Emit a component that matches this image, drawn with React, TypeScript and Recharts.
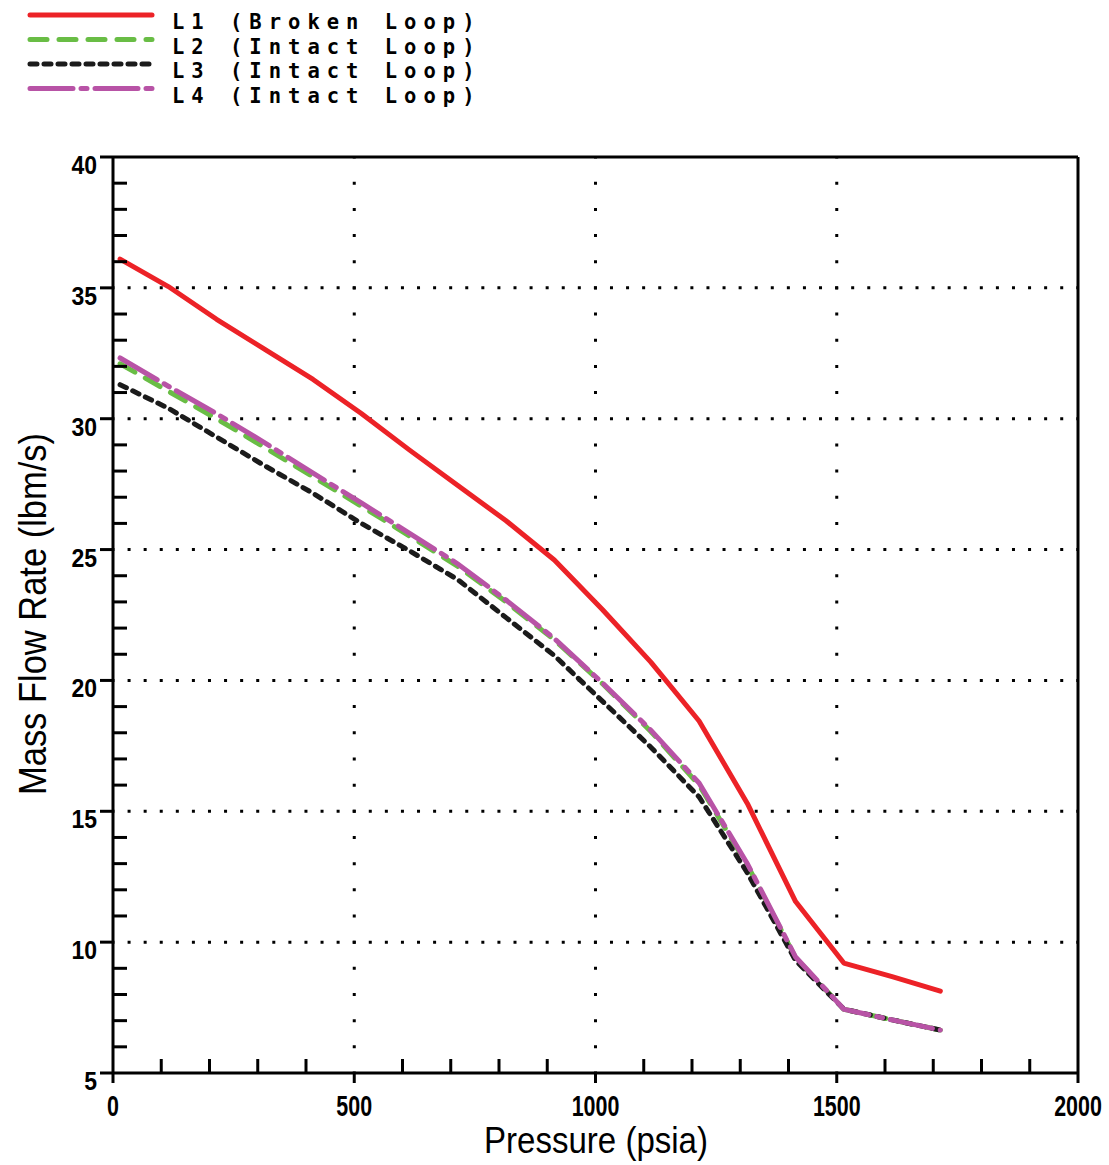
import { LineChart, Line, XAxis, YAxis, ReferenceLine, Legend } from 'recharts';

// pressure points (psia) the loop flows were read at
const pressure = [
  14.7, 114.7, 214.7, 314.7, 414.7, 514.7, 614.7, 714.7, 814.7,
  914.7, 1014.7, 1114.7, 1214.7, 1314.7, 1414.7, 1514.7, 1614.7, 1714.7,
];

// mass flow rate (lbm/s) per loop
const l1Broken = [36.1, 35.05, 33.8, 32.65, 31.5, 30.2, 28.8, 27.45, 26.1, 24.6, 22.7, 20.7, 18.45, 15.3, 11.55, 9.2, 8.68, 8.13];
const l2Intact = [32.1, 31.05, 30.0, 28.9, 27.78, 26.66, 25.52, 24.36, 23.0, 21.55, 19.87, 18.05, 16.0, 12.95, 9.4, 7.44, 7.03, 6.64];
const l3Intact = [31.3, 30.4, 29.3, 28.2, 27.15, 26.0, 24.95, 23.85, 22.4, 20.95, 19.2, 17.45, 15.55, 12.65, 9.3, 7.44, 7.03, 6.64];
const l4Intact = [32.32, 31.24, 30.19, 29.08, 27.92, 26.78, 25.62, 24.45, 23.07, 21.6, 19.9, 18.1, 16.08, 13.0, 9.43, 7.44, 7.03, 6.64];

const xTicks = [0, 100, 200, 300, 400, 500, 600, 700, 800, 900, 1000, 1100, 1200, 1300, 1400, 1500, 1600, 1700, 1800, 1900, 2000];
const yTicks = [5, 6, 7, 8, 9, 10, 11, 12, 13, 14, 15, 16, 17, 18, 19, 20, 21, 22, 23, 24, 25, 26, 27, 28, 29, 30, 31, 32, 33, 34, 35, 36, 37, 38, 39, 40];
const xGrid = [500, 1000, 1500];
const yGrid = [10, 15, 20, 25, 30, 35];

const data = pressure.map((p, i) => ({
  p,
  l1: l1Broken[i],
  l2: l2Intact[i],
  l3: l3Intact[i],
  l4: l4Intact[i],
}));

const W = 1109;
const H = 1165;
const LEFT = 113;
const RIGHT = 1078;
const TOP = 157;
const BOTTOM = 1073;

const RED = '#ec2227';
const GREEN = '#69bd45';
const BLACK = '#1b1b1b';
const PURPLE = '#b853a6';

const font = "'Liberation Sans', Arial, sans-serif";

const XTick = ({ x, payload }: any) => {
  const v = payload.value;
  const major = v % 500 === 0;
  return (
    <g>
      <line
        x1={x}
        x2={x}
        y1={BOTTOM}
        y2={major ? BOTTOM + 10 : BOTTOM - 14}
        stroke="#000"
        strokeWidth={3}
      />
      {major && (
        <text
          transform={`translate(${x}, ${BOTTOM + 43}) scale(0.74, 1)`}
          textAnchor="middle"
          fontFamily={font}
          fontWeight="bold"
          fontSize={29}
          fill="#000"
        >
          {v}
        </text>
      )}
    </g>
  );
};

const YTick = ({ y, payload }: any) => {
  const v = payload.value;
  const major = v % 5 === 0;
  return (
    <g>
      <line
        x1={LEFT}
        x2={major ? LEFT - 13 : LEFT + 14}
        y1={y}
        y2={y}
        stroke="#000"
        strokeWidth={3}
      />
      {major && (
        <text
          transform={`translate(97, ${y + 17}) scale(0.92, 1)`}
          textAnchor="end"
          fontFamily={font}
          fontWeight="bold"
          fontSize={25}
          fill="#000"
        >
          {v}
        </text>
      )}
    </g>
  );
};

const legendItems = [
  { label: 'L1 (Broken Loop)', color: RED, dash: undefined },
  { label: 'L2 (Intact Loop)', color: GREEN, dash: '17 12' },
  { label: 'L3 (Intact Loop)', color: BLACK, dash: '7 7' },
  { label: 'L4 (Intact Loop)', color: PURPLE, dash: '43 8 6 8' },
];

const LegendBox = () => (
  <svg width={500} height={110}>
    {legendItems.map((item, i) => (
      <g key={item.label}>
        <line
          x1={30}
          x2={152}
          y1={15 + i * 24.5}
          y2={15 + i * 24.5}
          stroke={item.color}
          strokeWidth={5}
          strokeLinecap="round"
          strokeDasharray={item.dash}
        />
        <text
          x={172}
          y={29 + i * 24.5}
          fontFamily="'DejaVu Sans Mono', monospace"
          fontWeight="bold"
          fontSize={20.5}
          letterSpacing={7}
          fill="#000"
        >
          {item.label}
        </text>
      </g>
    ))}
  </svg>
);

export default function App() {
  return (
    <div style={{ position: 'absolute', left: 0, top: 0, width: W, height: H, background: '#fff' }}>
      <LineChart
        width={W}
        height={H}
        data={data}
        margin={{ top: TOP, left: LEFT - 2, right: W - RIGHT, bottom: H - BOTTOM - 2 }}
      >
        <XAxis
          dataKey="p"
          type="number"
          domain={[0, 2000]}
          ticks={xTicks}
          interval={0}
          height={2}
          tick={<XTick />}
          tickLine={false}
          axisLine={{ stroke: '#000', strokeWidth: 3 }}
        />
        <YAxis
          type="number"
          domain={[5, 40]}
          ticks={yTicks}
          interval={0}
          width={2}
          tick={<YTick />}
          tickLine={false}
          axisLine={{ stroke: '#000', strokeWidth: 3 }}
        />
        {yGrid.map((v) => (
          <ReferenceLine
            key={`y${v}`}
            y={v}
            stroke="#000"
            strokeWidth={3}
            strokeDasharray="3 13.08"
            strokeDashoffset={1.5}
          />
        ))}
        {xGrid.map((v) => (
          <ReferenceLine
            key={`x${v}`}
            x={v}
            stroke="#000"
            strokeWidth={3}
            strokeDasharray="3 23.17"
            strokeDashoffset={1.5}
          />
        ))}
        <ReferenceLine y={40} stroke="#000" strokeWidth={3} />
        <ReferenceLine x={2000} stroke="#000" strokeWidth={3} />
        <Legend
          layout="vertical"
          align="center"
          verticalAlign="middle"
          content={<LegendBox />}
          wrapperStyle={{ position: 'absolute', left: 0, top: 0, width: 500, height: 110 }}
        />
        <Line type="linear" dataKey="l1" stroke={RED} strokeWidth={5} strokeLinecap="round" strokeLinejoin="round" dot={false} isAnimationActive={false} />
        <Line type="linear" dataKey="l2" stroke={GREEN} strokeWidth={5} strokeDasharray="17 12" strokeLinecap="round" dot={false} isAnimationActive={false} />
        <Line type="linear" dataKey="l3" stroke={BLACK} strokeWidth={5} strokeDasharray="7 7" strokeLinecap="round" dot={false} isAnimationActive={false} />
        <Line type="linear" dataKey="l4" stroke={PURPLE} strokeWidth={5} strokeDasharray="43 8 6 8" strokeLinecap="round" dot={false} isAnimationActive={false} />
        <text
          x={596}
          y={1153}
          textAnchor="middle"
          fontFamily={font}
          fontSize={37}
          textLength={224}
          lengthAdjust="spacingAndGlyphs"
          fill="#000"
        >
          Pressure (psia)
        </text>
        <text
          x={46}
          y={614}
          textAnchor="middle"
          transform="rotate(-90 46 614)"
          fontFamily={font}
          fontSize={38}
          textLength={362}
          lengthAdjust="spacingAndGlyphs"
          fill="#000"
        >
          Mass Flow Rate (lbm/s)
        </text>
      </LineChart>
    </div>
  );
}
